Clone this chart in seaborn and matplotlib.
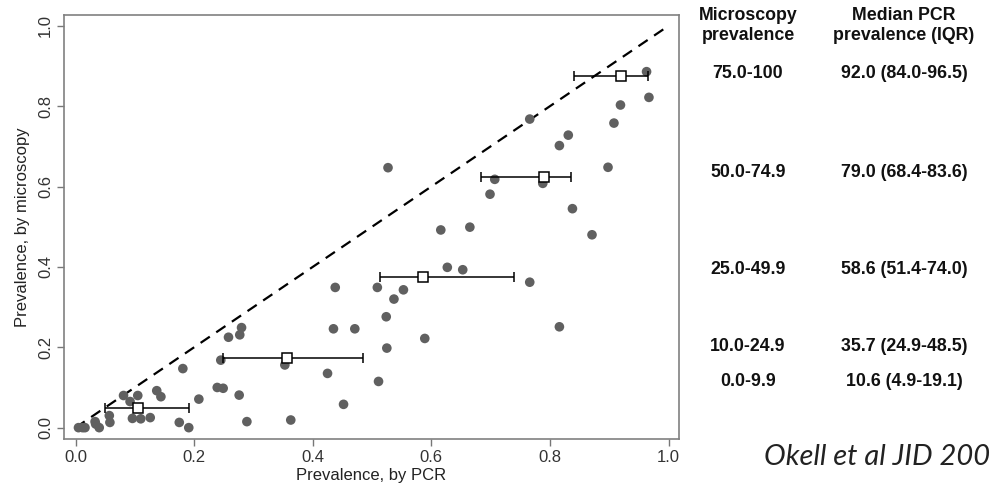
import matplotlib
matplotlib.use("Agg")
import matplotlib.pyplot as plt
import seaborn as sns
import numpy as np
import pandas as pd

# ---- data ----
pcr = [0.005, 0.012, 0.016, 0.033, 0.034, 0.040, 0.057, 0.058, 0.081, 0.092,
       0.105, 0.096, 0.110, 0.126, 0.137, 0.144, 0.181, 0.175, 0.191, 0.208,
       0.239, 0.249, 0.245, 0.258, 0.277, 0.280, 0.276, 0.289, 0.353, 0.363,
       0.425, 0.452, 0.435, 0.471, 0.438, 0.509, 0.511, 0.616, 0.665, 0.627,
       0.653, 0.553, 0.537, 0.524, 0.589, 0.525, 0.527, 0.766, 0.816, 0.707,
       0.699, 0.788, 0.838, 0.871, 0.898, 0.816, 0.831, 0.766, 0.908, 0.919,
       0.967, 0.963]
micro = [0.000, 0.000, 0.000, 0.015, 0.009, 0.000, 0.030, 0.013, 0.080, 0.065,
         0.080, 0.023, 0.022, 0.025, 0.092, 0.077, 0.147, 0.013, 0.000, 0.071,
         0.100, 0.098, 0.168, 0.225, 0.231, 0.249, 0.081, 0.015, 0.156, 0.019,
         0.135, 0.058, 0.246, 0.246, 0.349, 0.349, 0.115, 0.492, 0.499, 0.399,
         0.393, 0.343, 0.320, 0.276, 0.222, 0.198, 0.647, 0.362, 0.251, 0.618,
         0.581, 0.608, 0.545, 0.480, 0.648, 0.702, 0.728, 0.768, 0.758, 0.803,
         0.822, 0.886]

bin_labels = ["75.0-100", "50.0-74.9", "25.0-49.9", "10.0-24.9", "0.0-9.9"]
bin_mid = [0.875, 0.6245, 0.3745, 0.1745, 0.0495]
median_pcr = [0.920, 0.790, 0.586, 0.357, 0.106]
q1_pcr = [0.840, 0.684, 0.514, 0.249, 0.049]
q3_pcr = [0.965, 0.836, 0.740, 0.485, 0.191]
median_text = ["92.0 (84.0-96.5)", "79.0 (68.4-83.6)", "58.6 (51.4-74.0)",
               "35.7 (24.9-48.5)", "10.6 (4.9-19.1)"]
identity = [0.0, 1.0]
xticks = [0.0, 0.2, 0.4, 0.6, 0.8, 1.0]

df = pd.DataFrame({"pcr": pcr, "micro": micro})

sns.set_theme(style="white")
plt.rcParams["font.family"] = ["Liberation Sans", "DejaVu Sans"]

W, H = 992, 495
fig = plt.figure(figsize=(W / 100, H / 100), dpi=100)
ax = fig.add_axes([64 / W, 1 - 439.3 / H, 615 / W, 424.3 / H])

ax.plot(identity, identity, color="black", lw=1.6, ls=(0, (5, 3.5)), zorder=2)
sns.scatterplot(data=df, x="pcr", y="micro", ax=ax, s=48, color="#606060",
                edgecolor="none", linewidth=0, zorder=3, legend=False)

lo = np.array(median_pcr) - np.array(q1_pcr)
hi = np.array(q3_pcr) - np.array(median_pcr)
ax.errorbar(median_pcr, bin_mid, xerr=[lo, hi], fmt="s", mfc="white",
            mec="black", mew=1.1, ms=6.5, ecolor="black", elinewidth=1.1,
            capsize=3.5, capthick=1.3, zorder=4)

ax.set_xlim(-0.0194, 1.0177)
ax.set_ylim(-0.029, 1.027)
ax.set_xticks(xticks)
ax.set_yticks(xticks)
ax.set_xticklabels([f"{t:.1f}" for t in xticks])
ax.set_yticklabels([f"{t:.1f}" for t in xticks], rotation=90, va="center")
ax.set_xlabel("Prevalence, by PCR", fontsize=12, color="#222222", labelpad=2)
ax.set_ylabel("Prevalence, by microscopy", fontsize=12, color="#222222", labelpad=6)
ax.tick_params(axis="both", which="both", direction="out", length=5, width=1,
               color="#777777", labelsize=12, labelcolor="#333333",
               bottom=True, left=True, pad=3)
for sp in ax.spines.values():
    sp.set_color("#808080")
    sp.set_linewidth(1.2)

def ftext(x, y, s, **kw):
    fig.text(x / W, 1 - y / H, s, ha="center", va="center", **kw)

bold = dict(fontsize=12.8, fontweight="bold", color="#111111")
ftext(748, 15, "Microscopy", **bold)
ftext(748, 36, "prevalence", **bold)
ftext(904, 15, "Median PCR", **bold)
ftext(904, 36, "prevalence (IQR)", **bold)
row_y = [74, 172.3, 269.3, 346.7, 381.7]
for lab, med, yy in zip(bin_labels, median_text, row_y):
    ftext(748, yy, lab, **bold)
    ftext(904, yy, med, **bold)

fig.text(990 / W, 1 - 457 / H, "Okell et al JID 200", ha="right", va="center",
         fontsize=21, style="italic", family=["Lato", "DejaVu Sans"],
         color="#222222")

fig.savefig("out.png", dpi=100)
